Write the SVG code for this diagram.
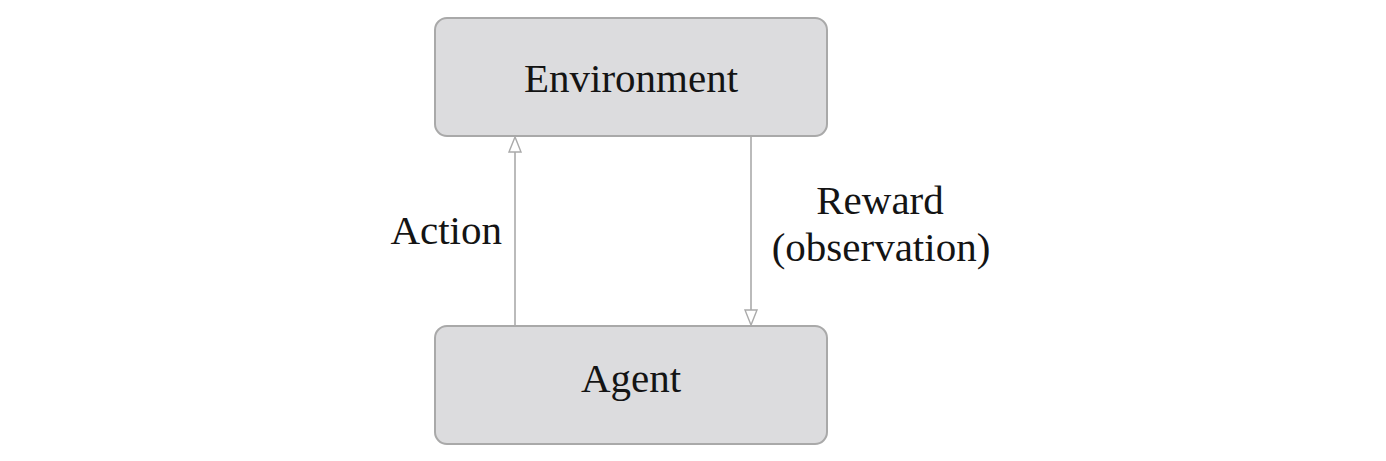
<svg xmlns="http://www.w3.org/2000/svg" width="1386" height="461" viewBox="0 0 1386 461">
<style>
.box{fill:#dcdcde;stroke:#a9a9a9;stroke-width:2}
.lbl{font-family:"Liberation Serif","Times New Roman",serif;font-size:41px;fill:#141414}
.conn{stroke:#aaaaaa;stroke-width:1.6;fill:none}
.head{fill:#ffffff;stroke:#aaaaaa;stroke-width:1.4}
</style>
<rect width="1386" height="461" fill="#ffffff"/>
<g id="environment">
<rect class="box" x="435" y="18" width="392" height="118" rx="12"/>
<text class="lbl" x="631" y="92" text-anchor="middle">Environment</text>
</g>
<g id="agent">
<rect class="box" x="435" y="326" width="392" height="118" rx="12"/>
<text class="lbl" x="631" y="392" text-anchor="middle">Agent</text>
</g>
<g id="connectors">
<line class="conn" x1="515" y1="326" x2="515" y2="151"/>
<path class="head" d="M515,137 L509,152 L521,152 Z"/>
<text class="lbl" x="502" y="244" text-anchor="end">Action</text>
<line class="conn" x1="751" y1="136" x2="751" y2="311"/>
<path class="head" d="M751,325 L745,310 L757,310 Z"/>
<text class="lbl" x="880" y="214" text-anchor="middle">Reward</text>
<text class="lbl" x="881" y="261" text-anchor="middle">(observation)</text>
</g>
</svg>
